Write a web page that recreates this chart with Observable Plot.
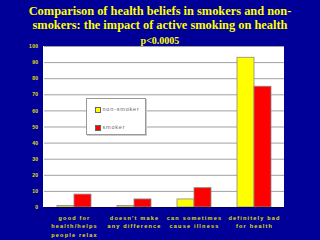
<!DOCTYPE html>
<html><head><meta charset="utf-8">
<script src="https://cdn.jsdelivr.net/npm/d3@7"></script>
<script src="https://cdn.jsdelivr.net/npm/@observablehq/plot@0.6"></script>
<style>
html,body{margin:0;padding:0;background:#000099;width:320px;height:240px;overflow:hidden}
#wrap{position:relative;width:320px;height:240px}
#bg{position:absolute;left:43px;top:46px;width:241px;height:161px;background:#fff}
#chart{position:absolute;left:0;top:0}
#chart g[aria-label="fx-axis tick label"]{letter-spacing:1.2px}
#chart g[aria-label="y-axis tick label"]{letter-spacing:0.4px}
#title{position:absolute;left:0;top:5px;width:320px;text-align:center;font-family:"Liberation Serif",serif;font-weight:bold;color:#ffff00;font-size:12.4px;line-height:13.6px}
#sub{position:absolute;left:0;top:35px;width:320px;text-align:center;font-family:"Liberation Serif",serif;font-weight:bold;color:#ffff00;font-size:10px;line-height:11px}
#legend{position:absolute;left:86px;top:98px;width:58px;height:35px;background:#fff;border:1px solid #999;box-shadow:1px 1px 0 #ccc;font-family:"Liberation Sans",sans-serif;font-size:5.5px;color:#666;letter-spacing:0.8px}
.item{position:absolute;left:8px;height:6px;line-height:6px;white-space:nowrap}
.sw{display:inline-block;width:4px;height:4px;border:0.5px solid #666;vertical-align:middle;margin-right:1.5px}
</style></head>
<body><div id="wrap">
<div id="bg"></div>
<div id="chart"></div>
<div id="title">Comparison of health beliefs in smokers and non-<br>smokers: the impact of active smoking on health</div>
<div id="sub">p&lt;0.0005</div>
<div id="legend"></div>
</div>
<script>
const categories = ["good for\nhealth/helps\npeople relax", "doesn't make\nany difference", "can sometimes\ncause illness", "definitely bad\nfor health"];
const series = ["non-smoker", "smoker"];
const nonSmoker = [1, 1, 5, 93];
const smoker = [8, 5, 12, 75];
const colors = ["#ffff00", "#ff0000"];
const yTicks = [0, 10, 20, 30, 40, 50, 60, 70, 80, 90, 100];

const data = [];
categories.forEach((c, i) => {
  data.push({cat: c, series: series[0], value: nonSmoker[i]});
  data.push({cat: c, series: series[1], value: smoker[i]});
});

const chart = Plot.plot({
  width: 320, height: 240,
  marginLeft: 43, marginRight: 36, marginTop: 46, marginBottom: 33,
  style: {background: "transparent", fontFamily: "Liberation Sans, sans-serif"},
  fx: {domain: categories, padding: 0, label: null},
  x: {domain: series, paddingInner: 0, paddingOuter: 0.71, axis: null},
  y: {domain: [0, 100], label: null},
  color: {domain: series, range: colors},
  marks: [
    Plot.gridY(yTicks, {stroke: "#a0a0a0", strokeOpacity: 1, strokeWidth: 1}),
    Plot.barY(data, {fx: "cat", x: "series", y: "value", fill: "series", stroke: "#888", strokeWidth: 0.8}),
    Plot.ruleY([0], {stroke: "#000066"}),
    Plot.axisY(yTicks, {tickSize: 0, tickPadding: 6, fill: "#e0e000", fontSize: 5, fontWeight: "bold", label: null}),
    Plot.axisFx({anchor: "bottom", tickSize: 0, tickPadding: 6, fill: "#e0e000", fontSize: 5.5, fontWeight: "bold", lineHeight: 1.55, label: null})
  ]
});
document.getElementById("chart").appendChild(chart);

const lg = document.getElementById("legend");
series.forEach((s, i) => {
  const d = document.createElement("div");
  d.className = "item";
  d.style.top = (i === 0 ? 7 : 25) + "px";
  d.innerHTML = `<span class="sw" style="background:${colors[i]}"></span>${s}`;
  lg.appendChild(d);
});
</script>
</body></html>
